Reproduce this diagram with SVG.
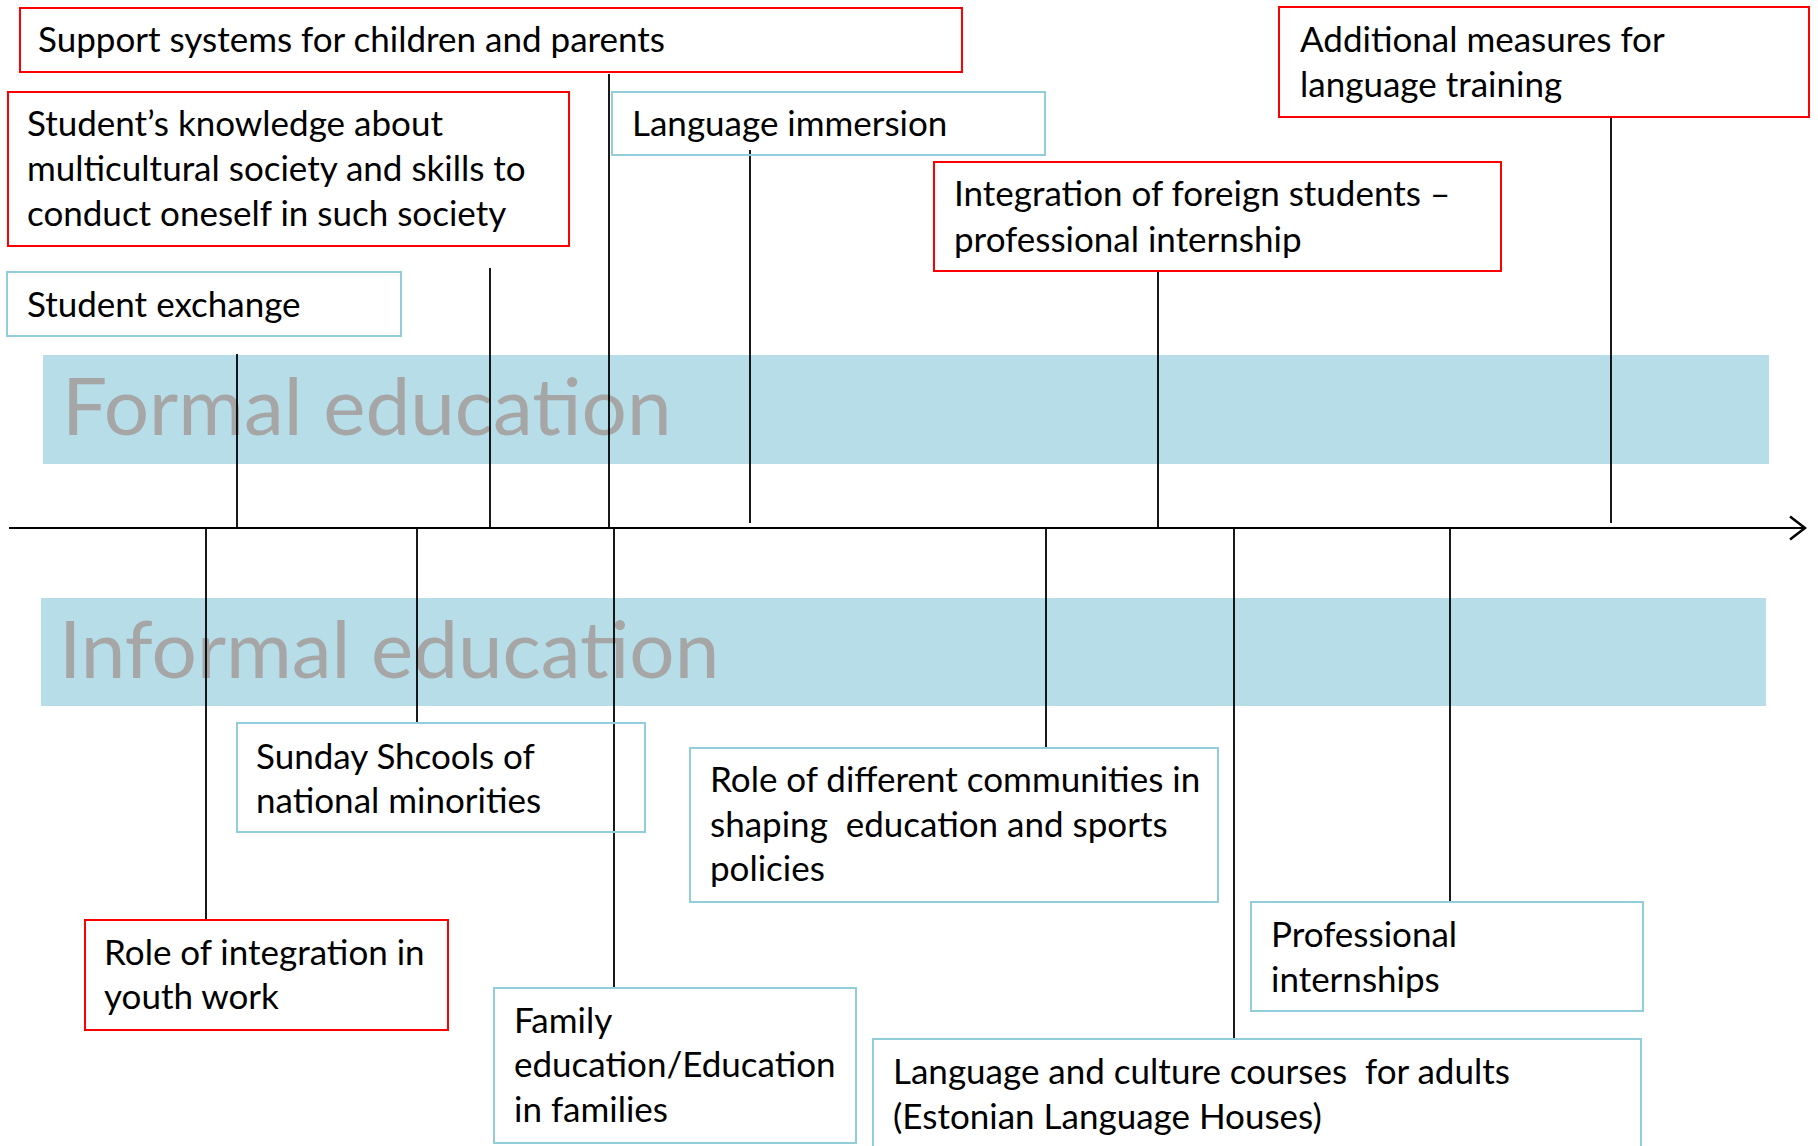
<svg xmlns="http://www.w3.org/2000/svg" width="1818" height="1146" viewBox="0 0 1818 1146">
<defs>
<marker id="arr" viewBox="0 0 18 26" refX="16.5" refY="13" markerWidth="18" markerHeight="26" markerUnits="userSpaceOnUse" orient="auto">
<path d="M1.5,1.5 L16.5,13 L1.5,24.5" fill="none" stroke="#000" stroke-width="2.6"/>
</marker>
</defs>
<style>
text{font-family:Lato,"Liberation Sans",sans-serif;font-size:35px;fill:#000}
.red{fill:none;stroke:#ff0000;stroke-width:2}
.blue{fill:none;stroke:#92cddc;stroke-width:2}
.band{fill:#b7dde8}
.big{font-size:80px;fill:#a6a6a6}
.ln{stroke:#000;stroke-width:1.8;fill:none}
</style>
<rect class="band" x="43" y="355" width="1726" height="109"/>
<text class="big" x="62" y="435">Formal education</text>
<rect class="band" x="41" y="598" width="1725" height="108"/>
<text class="big" x="59" y="678">Informal education</text>
<g id="connectors">
<line class="ln" x1="9" y1="528" x2="1805" y2="528" stroke-width="2.6" marker-end="url(#arr)"/>
<line class="ln" x1="237" y1="354" x2="237" y2="528"/>
<line class="ln" x1="490" y1="268" x2="490" y2="528"/>
<line class="ln" x1="609" y1="74" x2="609" y2="528"/>
<line class="ln" x1="750" y1="150" x2="750" y2="523"/>
<line class="ln" x1="1158" y1="272" x2="1158" y2="528"/>
<line class="ln" x1="1611" y1="117" x2="1611" y2="523"/>
<line class="ln" x1="206" y1="528" x2="206" y2="920"/>
<line class="ln" x1="417" y1="528" x2="417" y2="723"/>
<line class="ln" x1="614" y1="528" x2="614" y2="988"/>
<line class="ln" x1="1046" y1="528" x2="1046" y2="747"/>
<line class="ln" x1="1234" y1="528" x2="1234" y2="1039"/>
<line class="ln" x1="1450" y1="528" x2="1450" y2="902"/>
</g>
<g id="support">
<rect class="red" x="20" y="8" width="942" height="64"/>
<text x="38" y="52">Support systems for children and parents</text>
</g>
<g id="knowledge">
<rect class="red" x="8" y="92" width="561" height="154"/>
<text x="27" y="136">Student’s knowledge about</text>
<text x="27" y="181">multicultural society and skills to</text>
<text x="27" y="226">conduct oneself in such society</text>
</g>
<g id="exchange">
<rect class="blue" x="7" y="272" width="394" height="64"/>
<text x="27" y="317">Student exchange</text>
</g>
<g id="immersion">
<rect class="blue" x="612" y="92" width="433" height="63"/>
<text x="632" y="136">Language immersion</text>
</g>
<g id="foreign">
<rect class="red" x="934" y="162" width="567" height="109"/>
<text x="954" y="206">Integration of foreign students –</text>
<text x="954" y="252">professional internship</text>
</g>
<g id="additional">
<rect class="red" x="1279" y="7" width="530" height="110"/>
<text x="1300" y="52">Additional measures for</text>
<text x="1300" y="97">language training</text>
</g>
<g id="sunday">
<rect class="blue" x="237" y="723" width="408" height="109"/>
<text x="256" y="769">Sunday Shcools of</text>
<text x="256" y="813">national minorities</text>
</g>
<g id="communities">
<rect class="blue" x="690" y="748" width="528" height="154"/>
<text x="710" y="792">Role of different communities in</text>
<text x="710" y="837" xml:space="preserve">shaping  education and sports</text>
<text x="710" y="881">policies</text>
</g>
<g id="youth">
<rect class="red" x="85" y="920" width="363" height="110"/>
<text x="104" y="965">Role of integration in</text>
<text x="104" y="1009">youth work</text>
</g>
<g id="family">
<rect class="blue" x="494" y="988" width="362" height="155"/>
<text x="514" y="1033">Family</text>
<text x="514" y="1077">education/Education</text>
<text x="514" y="1122">in families</text>
</g>
<g id="internships">
<rect class="blue" x="1251" y="902" width="392" height="109"/>
<text x="1271" y="947">Professional</text>
<text x="1271" y="992">internships</text>
</g>
<g id="courses">
<rect class="blue" x="873" y="1039" width="768" height="120"/>
<text x="893" y="1084" xml:space="preserve">Language and culture courses  for adults</text>
<text x="893" y="1129">(Estonian Language Houses)</text>
</g>
</svg>
